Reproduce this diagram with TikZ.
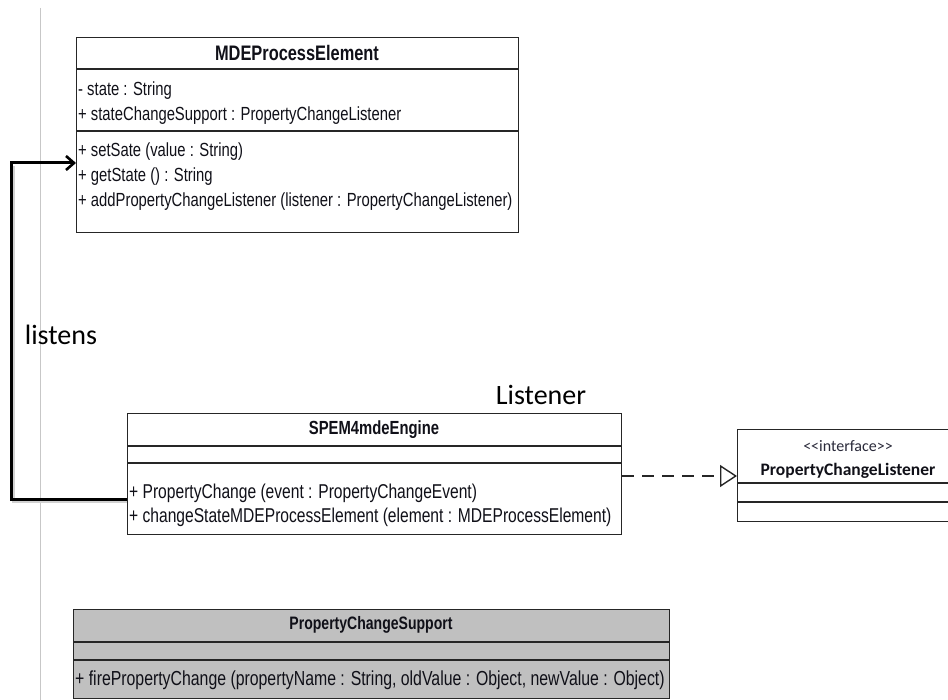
\documentclass[tikz,border=0pt]{standalone}
\usepackage{fontspec}
\newfontfamily\umlfont[FakeStretch=0.78]{Liberation Sans}
\newfontfamily\calfont{Carlito}
\usetikzlibrary{arrows.meta}
\definecolor{umlgray}{HTML}{C0C0C0}
\definecolor{umltext}{HTML}{101018}
\definecolor{stereo}{HTML}{2A2A3A}
\begin{document}
\begin{tikzpicture}[x=1pt,y=-1pt,
  classbox/.style={draw=black!85, line width=1.3pt, fill=white, inner sep=0pt, anchor=north west},
  sepline/.style={black!85, line width=1.6pt},
  member/.style={font=\umlfont\fontsize{19}{19}\selectfont, anchor=west, inner sep=1pt, text=umltext},
  bigmember/.style={member, font=\umlfont\fontsize{20}{20}\selectfont},
  ctitle/.style={font=\umlfont\bfseries\fontsize{19}{19}\selectfont, inner sep=1pt, text=umltext},
  note/.style={font=\calfont\fontsize{28}{28}\selectfont, inner sep=1pt, text=black},
  listenline/.style={draw=black, line width=3pt, -{Straight Barb[length=8pt,width=14pt,line width=2.6pt]}},
  listenshadow/.style={draw=black!18, line width=3pt},
  realizeline/.style={draw=black!85, line width=1.4pt, dash pattern=on 12pt off 8pt, -{Triangle[open,length=17pt,width=22pt,line width=1.4pt]}}
]
\useasboundingbox (0,0) rectangle (948,700);

% gray margin line
\draw[black!22, line width=0.8pt] (40,8) -- (40,700);

% MDEProcessElement
\node[classbox, minimum width=442pt, minimum height=195pt] (mde) at (76,37) {};
\node[ctitle, font=\umlfont\bfseries\fontsize{21}{21}\selectfont] (mdeT) at (297,53) {MDEProcessElement};
\draw[sepline] (mde.west |- 0,69) -- (mde.east |- 0,69);
\draw[sepline] (mde.west |- 0,131) -- (mde.east |- 0,131);
\node[member] (m1) at (77,91) {- state : String};
\node[member] (m2) at (77,116) {+ stateChangeSupport : PropertyChangeListener};
\node[member] (m3) at (77,152) {+ setSate (value : String)};
\node[member] (m4) at (77,177) {+ getState () : String};
\node[member] (m5) at (77,202) {+ addPropertyChangeListener (listener : PropertyChangeListener)};

% SPEM4mdeEngine
\node[classbox, minimum width=494pt, minimum height=121pt] (eng) at (127,413) {};
\node[ctitle] (engT) at (374,430) {SPEM4mdeEngine};
\draw[sepline] (eng.west |- 0,446) -- (eng.east |- 0,446);
\draw[sepline] (eng.west |- 0,463) -- (eng.east |- 0,463);
\node[bigmember] (e1) at (128,493) {+ PropertyChange (event : PropertyChangeEvent)};
\node[bigmember] (e2) at (128,517) {+ changeStateMDEProcessElement (element : MDEProcessElement)};

% PropertyChangeListener interface
\node[classbox, minimum width=222pt, minimum height=92pt] (intf) at (737,429) {};
\node[font=\calfont\fontsize{16}{16}\selectfont, text=stereo, inner sep=1pt] (intfS) at (848,446) {<<interface>>};
\node[font=\calfont\bfseries\fontsize{17.5}{17.5}\selectfont, text=umltext, inner sep=1pt] (intfT) at (848,471) {PropertyChangeListener};
\draw[sepline] (intf.west |- 0,483) -- (intf.east |- 0,483);
\draw[sepline] (intf.west |- 0,502) -- (intf.east |- 0,502);

% PropertyChangeSupport
\node[classbox, fill=umlgray, minimum width=596pt, minimum height=89pt] (pcs) at (73,609) {};
\node[ctitle, font=\umlfont\bfseries\fontsize{18}{18}\selectfont] (pcsT) at (371,625) {PropertyChangeSupport};
\draw[sepline] (pcs.west |- 0,642) -- (pcs.east |- 0,642);
\draw[sepline] (pcs.west |- 0,660) -- (pcs.east |- 0,660);
\node[member, font=\umlfont\fontsize{20.3}{20.3}\selectfont] (p1) at (74,680) {+ firePropertyChange (propertyName : String, oldValue : Object, newValue : Object)};

% labels
\node[note] (lbl1) at (61,335) {listens};
\node[note] (lbl2) at (541,395) {Listener};

% connectors
\coordinate (bend) at (11,499);
\coordinate (bendS) at (13,501);
\draw[listenshadow] ([shift={(0pt,-2pt)}]eng.west |- 0,499) -- (bendS) -- (13,166);
\draw[listenline] (eng.west |- 0,499) -- (bend) |- (mde.west |- 0,163);
\draw[realizeline] (eng.east |- 0,476) -- (intf.west |- 0,476);
\end{tikzpicture}
\end{document}
